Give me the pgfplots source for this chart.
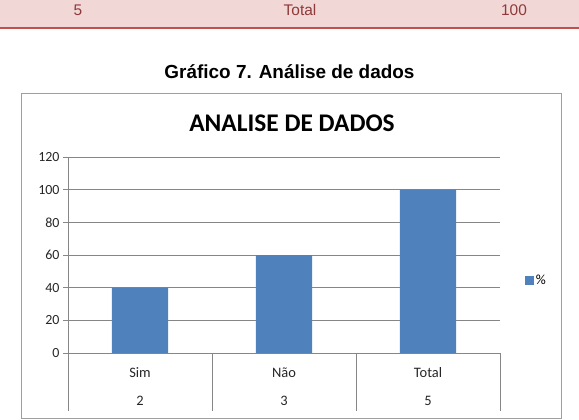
\documentclass[border=0pt]{standalone}
\usepackage{fontspec}
\setmainfont{Carlito}
\newfontfamily\arial{Liberation Sans}
\usepackage{pgfplots}
\pgfplotsset{compat=1.18}
\definecolor{barblue}{HTML}{4F81BD}
\definecolor{gridgray}{HTML}{868686}
\definecolor{bandpink}{HTML}{F2D7D7}
\definecolor{bandred}{HTML}{C0504D}
\definecolor{textred}{HTML}{8E3A3A}
\definecolor{ticktext}{HTML}{262626}
\begin{document}
\begin{tikzpicture}[x=1bp,y=1bp]
\path[use as bounding box] (0,0) rectangle (579,419);
\fill[bandpink] (0,391) rectangle (579,419);
\draw[bandred, line width=1.5bp] (0,391) -- (579,391);
\node[font=\arial\fontsize{15.5}{18}\selectfont, text=textred] at (78,409) {5};
\node[font=\arial\fontsize{15.5}{18}\selectfont, text=textred] at (300,409) {Total};
\node[font=\arial\fontsize{15.5}{18}\selectfont, text=textred] at (514,409) {100};
\node[font=\arial\bfseries\fontsize{19}{22}\selectfont] at (289.5,347) {Gráfico 7. Análise de dados};
\draw[gridgray!80, line width=1bp] (21.5,0.8) rectangle (561.5,325.5);
\node[font=\bfseries\fontsize{25.5}{28}\selectfont] at (292,296) {ANALISE DE DADOS};
\begin{axis}[
  at={(140bp,66bp)}, anchor=origin, scale only axis,
  width=432bp, height=196bp,
  xmin=-0.5, xmax=2.5, ymin=0, ymax=120,
  clip=false,
  ytick={0,20,...,120},
  ymajorgrids, grid style={gridgray, line width=0.8bp},
  axis lines*=left,
  axis line style={gridgray, line width=0.8bp},
  every tick/.style={gridgray, line width=0.8bp},
  y tick label style={font=\fontsize{14}{16}\selectfont, text=ticktext},
  /pgf/number format/assume math mode=true,
  major tick length=5bp,
  tick align=outside,
  xtick={0,1,2},
  xticklabels={{Sim\\[12bp]2},{Não\\[12bp]3},{Total\\[12bp]5}},
  x tick label style={font=\fontsize{14.5}{16}\selectfont, text=ticktext, align=center, yshift=-6bp},
  xtick style={draw=none},
  ybar, bar width=0.39,
  legend style={at={(1.05,0.37)}, anchor=west, draw=none, fill=none, font=\fontsize{14}{16}\selectfont, legend cell align=left},
  legend image code/.code={\fill[barblue] (0bp,-4.5bp) rectangle (9bp,4.5bp);},
]
\addplot[fill=barblue, draw=none] coordinates {(0,40) (1,60) (2,100)};
\addlegendentry{\%}
\draw[gridgray, line width=0.8bp] (axis cs:-0.5,0) -- ([yshift=-58bp]axis cs:-0.5,0);
\draw[gridgray, line width=0.8bp] (axis cs:0.5,0) -- ([yshift=-58bp]axis cs:0.5,0);
\draw[gridgray, line width=0.8bp] (axis cs:1.5,0) -- ([yshift=-58bp]axis cs:1.5,0);
\draw[gridgray, line width=0.8bp] (axis cs:2.5,0) -- ([yshift=-58bp]axis cs:2.5,0);
\end{axis}
\end{tikzpicture}
\end{document}
